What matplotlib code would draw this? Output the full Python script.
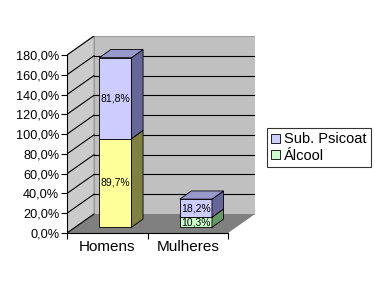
#!/usr/bin/env python3
"""
Gestapeltes 3D-Säulendiagramm (Excel-Stil): Álcool / Sub. Psicoat nach Geschlecht.
"""
import matplotlib
matplotlib.use("Agg")
import matplotlib.pyplot as plt
from matplotlib.patches import Polygon, Patch

plt.rcParams["font.family"] = ["Liberation Sans", "DejaVu Sans"]

# =============================================================================
# Daten
# =============================================================================

categories = ["Homens", "Mulheres"]
alcool = [89.7, 10.3]
psicoat = [81.8, 18.2]
series_names = ["Sub. Psicoat", "Álcool"]
y_ticks = [0, 20, 40, 60, 80, 100, 120, 140, 160, 180]

# =============================================================================
# Darstellung
# =============================================================================

DX = 0.335      # Tiefenversatz in Kategorie-Einheiten
DY = 19.2       # Tiefenversatz in Prozent
F1, F2 = 0.30, 0.73   # Vorder-/Rückseite der Säulen (Anteil der Tiefe)
BAR_W = 0.40

alc_front = ["#FFFF99", "#CCFFCC"]
alc_side = ["#808040", "#669966"]
alc_top = ["#CCCC77", "#99CC99"]
psi_front = "#CCCCFF"
psi_side = "#666699"
psi_top = "#9999CC"

fig = plt.figure(figsize=(3.75, 2.95), dpi=100)
ax = fig.add_axes([67 / 375, 62 / 295, 188 / 375, 197 / 295])
ax.set_xlim(0, len(categories) + DX)
ax.set_ylim(0, y_ticks[-1] + DY)
ax.set_facecolor("none")

ymax = y_ticks[-1]
n = len(categories)

# Wände und Boden
ax.add_patch(Polygon([(0, 0), (DX, DY), (DX, ymax + DY), (0, ymax)],
                     facecolor="#CBCBCB", edgecolor="#909090", lw=0.6, zorder=1))
ax.add_patch(Polygon([(DX, DY), (n + DX, DY), (n + DX, ymax + DY), (DX, ymax + DY)],
                     facecolor="#C0C0C0", edgecolor="#909090", lw=0.6, zorder=1))
ax.add_patch(Polygon([(0, 0), (n, 0), (n + DX, DY), (DX, DY)],
                     facecolor="#808080", edgecolor="none", zorder=1))

for v in y_ticks:
    ax.plot([0, DX], [v, v + DY], color="black", lw=0.8, zorder=2)
    if 0 < v < ymax:
        ax.plot([DX, n + DX], [v + DY, v + DY], color="black", lw=0.8, zorder=2)


def box(x0, x1, yb, yt, front, side, top, z):
    kw = dict(edgecolor="black", lw=0.6, zorder=z)
    ax.add_patch(Polygon([(x0 + F1 * DX, yb + F1 * DY), (x1 + F1 * DX, yb + F1 * DY),
                          (x1 + F1 * DX, yt + F1 * DY), (x0 + F1 * DX, yt + F1 * DY)],
                         facecolor=front, **kw))
    ax.add_patch(Polygon([(x1 + F1 * DX, yb + F1 * DY), (x1 + F2 * DX, yb + F2 * DY),
                          (x1 + F2 * DX, yt + F2 * DY), (x1 + F1 * DX, yt + F1 * DY)],
                         facecolor=side, **kw))
    ax.add_patch(Polygon([(x0 + F1 * DX, yt + F1 * DY), (x1 + F1 * DX, yt + F1 * DY),
                          (x1 + F2 * DX, yt + F2 * DY), (x0 + F2 * DX, yt + F2 * DY)],
                         facecolor=top, **kw))


for i in range(n):
    x0 = i + 0.5 - BAR_W / 2
    x1 = i + 0.5 + BAR_W / 2
    box(x0, x1, 0, alcool[i], alc_front[i], alc_side[i], alc_top[i], 3 + 2 * i)
    box(x0, x1, alcool[i], alcool[i] + psicoat[i], psi_front, psi_side, psi_top, 4 + 2 * i)
    xc = i + 0.5 + F1 * DX
    for lo, val in [(0, alcool[i]), (alcool[i], psicoat[i])]:
        ax.text(xc, lo + val / 2 + F1 * DY, f"{val:.1f}%".replace(".", ","),
                ha="center", va="center", fontsize=7.5, zorder=10)

# Achsen
for s in ["top", "right"]:
    ax.spines[s].set_visible(False)
ax.spines["left"].set_bounds(0, ymax)
ax.spines["bottom"].set_bounds(0, n)
ax.spines["left"].set_zorder(6)
ax.set_yticks(y_ticks)
ax.set_yticklabels([f"{v:.1f}%".replace(".", ",") for v in y_ticks], fontsize=9.2)
ax.tick_params(axis="y", length=4, pad=1.5)
ax.set_xticks(range(n + 1))
ax.set_xticklabels([])
ax.set_xticks([i + 0.5 for i in range(n)], minor=True)
ax.set_xticklabels(categories, minor=True, fontsize=11)
ax.tick_params(axis="x", which="major", length=4)
ax.tick_params(axis="x", which="minor", length=0, pad=5)

handles = [Patch(facecolor=psi_front, edgecolor="black", lw=0.6),
           Patch(facecolor=alc_front[1], edgecolor="black", lw=0.6)]
leg = fig.legend(handles, series_names, loc="upper left",
                 bbox_to_anchor=(267 / 375, 1 - 128 / 295), fontsize=10.5,
                 frameon=True, fancybox=False, handlelength=0.6, handleheight=0.6,
                 handletextpad=0.25, borderpad=0.3, labelspacing=0.15, borderaxespad=0)
leg.get_frame().set_edgecolor("black")
leg.get_frame().set_linewidth(0.8)

fig.savefig("out.png", dpi=100)
